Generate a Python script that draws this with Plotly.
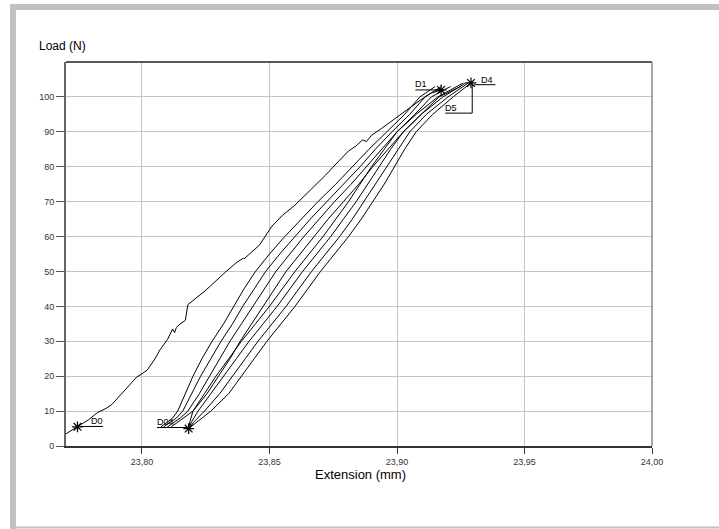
import plotly.graph_objects as go

# ---------------- data ----------------
x_ticks = [23.80, 23.85, 23.90, 23.95, 24.00]
x_tick_labels = ["23,80", "23,85", "23,90", "23,95", "24,00"]
y_ticks = [0, 10, 20, 30, 40, 50, 60, 70, 80, 90, 100]

# first loading curve (D0 -> D1)
d0_x = [23.7700, 23.7725, 23.7747, 23.7790, 23.7826, 23.7860, 23.7882, 23.7941, 23.7980, 23.7996,
        23.8020, 23.8052, 23.8070, 23.8100, 23.8120, 23.8128, 23.8135, 23.8150, 23.8170, 23.8180,
        23.8200, 23.8250, 23.8327, 23.8370, 23.8397, 23.8400, 23.8460, 23.8510, 23.8550, 23.8600,
        23.8660, 23.8720, 23.8770, 23.8810, 23.8840, 23.8865, 23.8880, 23.8900, 23.8940, 23.9000,
        23.9050, 23.9090, 23.9130, 23.9174]
d0_y = [3.4, 4.5, 5.5, 7.5, 9.6, 10.8, 11.9, 16.5, 19.8, 20.5,
        21.7, 25.1, 27.5, 30.5, 33.5, 32.5, 34.0, 35.0, 36.0, 40.5,
        41.7, 44.6, 49.8, 52.5, 53.8, 53.6, 57.5, 63.0, 66.0, 69.0,
        73.3, 77.6, 81.5, 84.5, 86.0, 87.7, 87.2, 89.0, 91.0, 94.3,
        96.8, 99.0, 101.0, 102.0]

# loading branches of the cycles
load_y = [5.5, 8, 10, 15, 20, 25, 30, 35, 40, 45, 50, 55, 60, 65, 70, 75, 80, 85, 90, 95, 100, 103]
load1_x = [23.8075, 23.8120, 23.8140, 23.8170, 23.8200, 23.8235, 23.8275, 23.8320, 23.8360, 23.8400,
           23.8445, 23.8500, 23.8560, 23.8625, 23.8690, 23.8760, 23.8825, 23.8890, 23.8960, 23.9030,
           23.9090, 23.9150]
load2_x = [23.8085, 23.8135, 23.8160, 23.8195, 23.8230, 23.8270, 23.8310, 23.8355, 23.8395, 23.8440,
           23.8485, 23.8540, 23.8600, 23.8660, 23.8725, 23.8790, 23.8855, 23.8915, 23.8980, 23.9050,
           23.9110, 23.9175]
load3_x = [23.8100, 23.8150, 23.8180, 23.8225, 23.8265, 23.8305, 23.8345, 23.8390, 23.8435, 23.8480,
           23.8525, 23.8580, 23.8635, 23.8695, 23.8755, 23.8820, 23.8880, 23.8940, 23.9000, 23.9070,
           23.9135, 23.9210]
load4_x = [23.8115, 23.8165, 23.8200, 23.8255, 23.8300, 23.8345, 23.8385, 23.8430, 23.8475, 23.8520,
           23.8565, 23.8620, 23.8675, 23.8730, 23.8790, 23.8850, 23.8905, 23.8965, 23.9025, 23.9095,
           23.9165, 23.9250]

# unloading branches of the cycles
unload_y = [104, 100, 95, 90, 85, 80, 75, 70, 65, 60, 55, 50, 45, 40, 35, 30, 25, 20, 15, 10, 7, 5]
unload1_x = [23.9260, 23.9160, 23.9075, 23.9000, 23.8950, 23.8900, 23.8855, 23.8810, 23.8760, 23.8710,
             23.8655, 23.8600, 23.8550, 23.8500, 23.8445, 23.8390, 23.8340, 23.8290, 23.8245, 23.8200,
             23.8188, 23.8183]
unload2_x = [23.9270, 23.9180, 23.9095, 23.9025, 23.8975, 23.8930, 23.8885, 23.8840, 23.8790, 23.8740,
             23.8685, 23.8630, 23.8580, 23.8530, 23.8475, 23.8420, 23.8370, 23.8320, 23.8270, 23.8220,
             23.8195, 23.8183]
unload3_x = [23.9280, 23.9200, 23.9115, 23.9050, 23.9005, 23.8960, 23.8915, 23.8870, 23.8825, 23.8775,
             23.8720, 23.8665, 23.8615, 23.8565, 23.8510, 23.8455, 23.8405, 23.8355, 23.8305, 23.8245,
             23.8205, 23.8183]
unload4_x = [23.9290, 23.9220, 23.9140, 23.9075, 23.9030, 23.8990, 23.8950, 23.8905, 23.8860, 23.8810,
             23.8755, 23.8700, 23.8650, 23.8600, 23.8545, 23.8490, 23.8440, 23.8390, 23.8340, 23.8270,
             23.8220, 23.8183]

# marked points and labels
point_names = ["D0", "D1", "D4", "D04"]
point_x = [23.7747, 23.9173, 23.9290, 23.8183]
point_y = [5.5, 102.0, 104.0, 5.0]

label_text = ["D0", "D1", "D4", "D5", "D04"]
label_x = [23.7824, 23.9094, 23.9354, 23.9213, 23.8091]
label_y = [7.3, 103.6, 104.8, 96.7, 6.8]
under_x0 = [23.7758, 23.9072, 23.9303, 23.9189, 23.8059]
under_x1 = [23.7847, 23.9173, 23.9386, 23.9295, 23.8183]
under_y = [5.6, 102.0, 103.5, 95.35, 5.3]

# ---------------- figure ----------------
fig = go.Figure()
line_style = dict(color="black", width=1)

fig.add_trace(go.Scatter(x=d0_x, y=d0_y, mode="lines", line=line_style, hoverinfo="skip"))
for xs in [load1_x, load2_x, load3_x, load4_x]:
    fig.add_trace(go.Scatter(x=xs, y=load_y, mode="lines", line=line_style, hoverinfo="skip"))
for xs in [unload1_x, unload2_x, unload3_x, unload4_x]:
    fig.add_trace(go.Scatter(x=xs, y=unload_y, mode="lines", line=line_style, hoverinfo="skip"))

fig.add_trace(go.Scatter(x=point_x, y=point_y, mode="markers", text=point_names,
                         marker=dict(symbol="asterisk", size=9, color="black",
                                     line=dict(color="black", width=1.2)),
                         hoverinfo="text"))

font_main = "Liberation Sans, Arial, sans-serif"
shapes = []
annotations = []
for t, lx, ly, ux0, ux1, uy in zip(label_text, label_x, label_y, under_x0, under_x1, under_y):
    annotations.append(dict(x=lx, y=ly, xref="x", yref="y", text=t, showarrow=False,
                            font=dict(size=9, color="black", family=font_main)))
    shapes.append(dict(type="line", xref="x", yref="y", x0=ux0, x1=ux1, y0=uy, y1=uy,
                       line=dict(color="black", width=1)))
# D5 leader vertical segment to the D4 mark
shapes.append(dict(type="line", xref="x", yref="y", x0=under_x1[3], x1=under_x1[3],
                   y0=under_y[3], y1=under_y[2], line=dict(color="black", width=1)))

# plot-area geometry (pixels)
L, R, T, B = 66, 652, 62, 446
W, H = 719, 529


def px(xp):
    return (xp - L) / (R - L)


def py(yp):
    return (B - yp) / (B - T)


frame_col = "#c0c0c0"
shapes += [
    dict(type="rect", xref="paper", yref="paper", x0=px(10), x1=px(719), y0=py(4), y1=py(10),
         fillcolor=frame_col, line=dict(width=0), layer="below"),
    dict(type="rect", xref="paper", yref="paper", x0=px(10), x1=px(16), y0=py(4), y1=py(529),
         fillcolor=frame_col, line=dict(width=0), layer="below"),
    dict(type="rect", xref="paper", yref="paper", x0=px(10), x1=px(719), y0=py(526.5), y1=py(528.5),
         fillcolor=frame_col, line=dict(width=0), layer="below"),
    # top border and right border of the plot box
    dict(type="line", xref="paper", yref="paper", x0=0, x1=1, y0=1, y1=1,
         line=dict(color="#222222", width=1.5)),
    dict(type="line", xref="paper", yref="paper", x0=1, x1=1, y0=0, y1=1,
         line=dict(color="#888888", width=1.5)),
]

annotations += [
    dict(xref="paper", yref="paper", x=px(37), y=py(46), xanchor="left", yanchor="middle",
         text="Load (N)", showarrow=False, font=dict(size=12, color="black", family=font_main)),
    dict(xref="paper", yref="paper", x=px(360), y=py(474), xanchor="center", yanchor="middle",
         text="Extension (mm)", showarrow=False, font=dict(size=13, color="black", family=font_main)),
]

fig.update_layout(
    width=W, height=H,
    margin=dict(l=L, r=W - R, t=T, b=H - B, pad=0),
    paper_bgcolor="white", plot_bgcolor="white",
    showlegend=False,
    shapes=shapes, annotations=annotations,
    font=dict(family=font_main, size=9, color="#333333"),
    xaxis=dict(range=[23.7702, 24.0], tickvals=x_ticks, ticktext=x_tick_labels,
               showgrid=True, gridcolor="#c8c4b6", gridwidth=1,
               showline=True, linecolor="#333333", linewidth=2,
               ticks="outside", ticklen=6, tickcolor="#333333", tickwidth=1,
               zeroline=False, tickfont=dict(size=9, color="#333333")),
    yaxis=dict(range=[0, 110], tickvals=y_ticks,
               showgrid=True, gridcolor="#c8c4b6", gridwidth=1,
               showline=True, linecolor="#666666", linewidth=2,
               ticks="outside", ticklen=8, tickcolor="#555555", tickwidth=1,
               zeroline=False, tickfont=dict(size=9, color="#333333")),
)

fig.write_html("out.html")
